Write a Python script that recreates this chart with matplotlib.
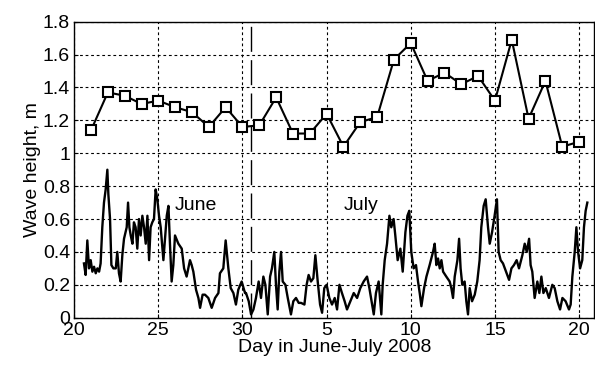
import matplotlib
matplotlib.use("Agg")
import matplotlib.pyplot as plt

plt.rcParams['font.family'] = ['Liberation Sans', 'DejaVu Sans']

# daily wave height (squares), day counted from 1 June
daily_days = list(range(21, 51))
daily_vals = [1.14, 1.37, 1.35, 1.30, 1.32, 1.28, 1.25, 1.16, 1.28, 1.16,
              1.17, 1.34, 1.12, 1.12, 1.24, 1.04, 1.19, 1.22, 1.57, 1.67,
              1.44, 1.49, 1.42, 1.47, 1.32, 1.69, 1.21, 1.44, 1.04, 1.07]

# high frequency record (lower curve)
hf_days = [20.58, 20.68, 20.78, 20.88, 20.98, 21.08, 21.18, 21.28, 21.38, 21.48,
           21.57, 21.67, 21.77, 21.87, 21.97, 22.03, 22.13, 22.21, 22.33, 22.47,
           22.56, 22.66, 22.76, 22.86, 22.96, 23.12, 23.20, 23.28, 23.36, 23.46,
           23.55, 23.65, 23.75, 23.85, 23.95, 24.05, 24.15, 24.25, 24.35, 24.45,
           24.54, 24.64, 24.74, 24.84, 24.94, 25.04, 25.14,
           25.30, 25.50, 25.60, 25.69, 25.79, 25.89, 25.99, 26.19, 26.39, 26.53,
           26.68, 26.88, 26.98, 27.08, 27.24, 27.38, 27.48, 27.63, 27.77, 27.97,
           28.17, 28.37, 28.57, 28.66, 28.86, 29.00, 29.16, 29.30, 29.46, 29.61,
           29.75, 29.95, 30.15,
           30.21, 30.37, 30.51, 30.65, 30.80, 30.96, 31.10, 31.24, 31.36, 31.50,
           31.64, 31.75, 31.89, 31.99, 32.09, 32.19, 32.29, 32.39, 32.55, 32.69,
           32.88, 33.02, 33.18, 33.34, 33.48, 33.68, 33.81, 33.93, 34.07, 34.21,
           34.33, 34.47, 34.61, 34.73, 34.86, 35.00, 35.16, 35.32,
           35.48, 35.62, 35.76, 35.91, 36.07, 36.21, 36.41, 36.61, 36.81, 37.00,
           37.20, 37.40, 37.54, 37.70, 37.80, 37.93, 38.09, 38.25, 38.33, 38.45,
           38.59, 38.73, 38.84, 38.98, 39.08, 39.22, 39.38, 39.52, 39.68, 39.80,
           39.91, 40.03, 40.17, 40.31,
           40.43, 40.53, 40.63, 40.79, 40.93, 41.12, 41.32, 41.42, 41.52, 41.62,
           41.72, 41.82, 41.92, 42.11, 42.31, 42.41, 42.51, 42.61, 42.77, 42.87,
           42.96, 43.06, 43.20, 43.30, 43.40, 43.50, 43.64, 43.80, 43.95, 44.09,
           44.19, 44.33, 44.45, 44.59, 44.69, 44.83, 44.98, 45.12, 45.22, 45.34,
           45.48,
           45.70, 45.84, 45.98, 46.13, 46.29, 46.43, 46.63, 46.77, 46.89, 47.03,
           47.12, 47.22, 47.36, 47.52, 47.64, 47.76, 47.88, 48.02, 48.21, 48.41,
           48.55, 48.71, 48.87, 49.01, 49.20, 49.40, 49.50, 49.60, 49.74, 49.84,
           49.94, 50.06, 50.19, 50.29, 50.39, 50.49]
hf_vals = [0.33, 0.26, 0.47, 0.30, 0.35, 0.28, 0.31, 0.27, 0.30, 0.28,
           0.33, 0.55, 0.70, 0.78, 0.90, 0.75, 0.60, 0.32, 0.30, 0.30,
           0.40, 0.27, 0.22, 0.38, 0.48, 0.55, 0.70, 0.55, 0.50, 0.45,
           0.58, 0.55, 0.42, 0.60, 0.50, 0.62, 0.55, 0.45, 0.62, 0.35,
           0.55, 0.58, 0.60, 0.78, 0.72, 0.62, 0.55,
           0.35, 0.62, 0.68, 0.45, 0.22, 0.32, 0.50, 0.45, 0.42, 0.30,
           0.25, 0.35, 0.32, 0.28, 0.17, 0.12, 0.06, 0.14, 0.14, 0.12,
           0.06, 0.12, 0.15, 0.27, 0.30, 0.47, 0.30, 0.18, 0.15, 0.08,
           0.17, 0.22, 0.15,
           0.15, 0.10, 0.02, 0.05, 0.12, 0.22, 0.12, 0.25, 0.20, 0.02,
           0.25, 0.30, 0.40, 0.20, 0.05, 0.28, 0.40, 0.22, 0.20, 0.12,
           0.02, 0.10, 0.12, 0.09, 0.09, 0.08, 0.20, 0.26, 0.22, 0.24,
           0.38, 0.22, 0.08, 0.03, 0.18, 0.20, 0.12, 0.08,
           0.12, 0.05, 0.20, 0.15, 0.10, 0.05, 0.10, 0.15, 0.12, 0.18,
           0.22, 0.25, 0.18, 0.08, 0.02, 0.15, 0.22, 0.02, 0.20, 0.35,
           0.45, 0.62, 0.55, 0.60, 0.50, 0.35, 0.42, 0.28, 0.52, 0.62,
           0.65, 0.40, 0.30, 0.32,
           0.22, 0.15, 0.07, 0.18, 0.25, 0.32, 0.40, 0.45, 0.32, 0.36,
           0.30, 0.35, 0.28, 0.25, 0.22, 0.18, 0.12, 0.25, 0.35, 0.48,
           0.30, 0.20, 0.22, 0.10, 0.02, 0.18, 0.10, 0.14, 0.22, 0.35,
           0.55, 0.68, 0.72, 0.55, 0.45, 0.52, 0.62, 0.72, 0.40, 0.35,
           0.33,
           0.27, 0.23, 0.30, 0.32, 0.35, 0.30, 0.38, 0.45, 0.40, 0.48,
           0.32, 0.28, 0.12, 0.22, 0.15, 0.25, 0.15, 0.18, 0.12, 0.20,
           0.18, 0.10, 0.05, 0.12, 0.10, 0.05, 0.08, 0.25, 0.40, 0.55,
           0.40, 0.30, 0.35, 0.55, 0.65, 0.70]

xticks = [20, 25, 30, 35, 40, 45, 50]
xtick_labels = ['20', '25', '30', '5', '10', '15', '20']
yticks = [0, 0.2, 0.4, 0.6, 0.8, 1.0, 1.2, 1.4, 1.6, 1.8]
ytick_labels = ['0', '0.2', '0.4', '0.6', '0.8', '1', '1.2', '1.4', '1.6', '1.8']
month_change = 30.49

fig = plt.figure(figsize=(5.95, 3.65), dpi=100)
ax = fig.add_axes([0.1247, 0.1296, 0.874, 0.8109])

ax.plot(hf_days, hf_vals, color='k', linewidth=1.7)
ax.plot(daily_days, daily_vals, color='k', linewidth=1.5, marker='s',
        markersize=6.5, markerfacecolor='white', markeredgecolor='k',
        markeredgewidth=1.5)
ax.axvline(month_change, color='k', linewidth=1.0, dashes=(18, 6))

ax.text(26.0, 0.68, 'June', fontsize=14, va='center')
ax.text(36.0, 0.68, 'July', fontsize=14, va='center')

ax.set_xlim(20, 50.9)
ax.set_ylim(0, 1.8)
ax.set_xticks(xticks)
ax.set_xticklabels(xtick_labels)
ax.set_yticks(yticks)
ax.set_yticklabels(ytick_labels)
ax.grid(True, color='k', linestyle=(0, (2.5, 2.5)), linewidth=0.8)
ax.tick_params(direction='in', length=3, labelsize=14, pad=3)
ax.set_xlabel('Day in June-July 2008', fontsize=14, labelpad=0)
ax.set_ylabel('Wave height, m', fontsize=14, labelpad=1)
for s in ax.spines.values():
    s.set_linewidth(1.0)

fig.savefig('out.png', dpi=100)
